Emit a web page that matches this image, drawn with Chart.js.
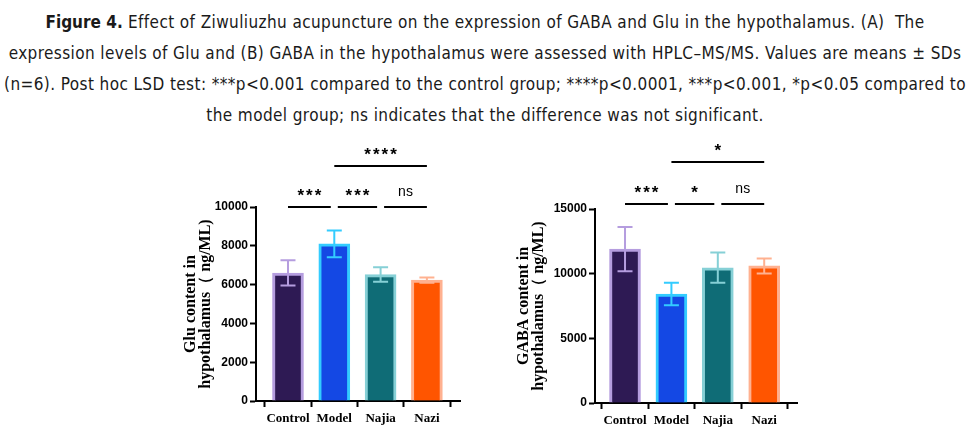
<!DOCTYPE html>
<html lang="en">
<head>
<meta charset="utf-8">
<title>Figure 4</title>
<script src="https://cdn.jsdelivr.net/npm/chart.js@4/dist/chart.umd.min.js"></script>
<style>
  body { margin: 0; width: 970px; height: 437px; background: #fff; position: relative; overflow: hidden; }
  #caption {
    position: absolute; left: 0; top: 7px; width: 970px;
    text-align: center; font-family: "DejaVu Sans Condensed", "Liberation Sans Narrow", "DejaVu Sans", sans-serif;
    font-size: 17px; letter-spacing: 0.4px; line-height: 31px; color: #1a1a1a; white-space: nowrap;
  }
  #caption b { letter-spacing: 0; }
  #gluWrap { position: absolute; left: 160px; top: 130px; }
  #gabaWrap { position: absolute; left: 490px; top: 130px; }
</style>
</head>
<body>
<div id="caption">
  <b>Figure 4.</b> Effect of Ziwuliuzhu acupuncture on the expression of GABA and Glu in the hypothalamus. (A)&nbsp; The<br>
  expression levels of Glu and (B) GABA in the hypothalamus were assessed with HPLC–MS/MS. Values are means ± SDs<br>
  (n=6). Post hoc LSD test: ***p&lt;0.001 compared to the control group; ****p&lt;0.0001, ***p&lt;0.001, *p&lt;0.05 compared to<br>
  the model group; ns indicates that the difference was not significant.
</div>
<div id="gluWrap"><canvas id="gluChart" width="320" height="307"></canvas></div>
<div id="gabaWrap"><canvas id="gabaChart" width="330" height="307"></canvas></div>

<script>
// data
var categories = ['Control', 'Model', 'Najia', 'Nazi'];

var gluMeans = [6600, 8100, 6520, 6230];
var gluSDs   = [650, 690, 370, 140];
var gluTicks = [0, 2000, 4000, 6000, 8000, 10000];
// [from, to, height, label]
var gluBrackets = [[0, 1, 10000, '***'], [1, 2, 10000, '***'], [2, 3, 10000, 'ns'], [1, 3, 12100, '****']];

var gabaMeans = [11900, 8420, 10460, 10600];
var gabaSDs   = [1710, 870, 1170, 580];
var gabaTicks = [0, 5000, 10000, 15000];
var gabaBrackets = [[0, 1, 15350, '***'], [1, 2, 15350, '*'], [2, 3, 15350, 'ns'], [1, 3, 18600, '*']];

var fillColors   = ['#2e1a54', '#1448e4', '#0f6c76', '#ff5500'];
var borderColors = ['#b59ddf', '#33ccff', '#86d0d6', '#ffb190'];

// error bars drawn on top of the bars
var errorBars = {
  id: 'errorBars',
  afterDatasetsDraw: function (chart) {
    var ctx = chart.ctx;
    var meta = chart.getDatasetMeta(0);
    var y = chart.scales.y;
    var sds = chart.options.plugins.errorBars.sds;
    var means = chart.data.datasets[0].data;
    ctx.save();
    ctx.lineWidth = 2;
    meta.data.forEach(function (bar, i) {
      var m = means[i].y;
      var top = y.getPixelForValue(m + sds[i]);
      var bot = y.getPixelForValue(m - sds[i]);
      ctx.strokeStyle = borderColors[i];
      ctx.beginPath();
      ctx.moveTo(bar.x, top); ctx.lineTo(bar.x, bot);
      ctx.moveTo(bar.x - 7.5, top); ctx.lineTo(bar.x + 7.5, top);
      ctx.moveTo(bar.x - 7.5, bot); ctx.lineTo(bar.x + 7.5, bot);
      ctx.stroke();
    });
    ctx.restore();
  }
};

// significance brackets above the bars
var sigBrackets = {
  id: 'sigBrackets',
  afterDraw: function (chart) {
    var ctx = chart.ctx;
    var x = chart.scales.x, y = chart.scales.y;
    var list = chart.options.plugins.sigBrackets.list;
    ctx.save();
    list.forEach(function (b) {
      var shared = function (idx) {
        return list.some(function (o) { return o !== b && o[2] === b[2] && (o[0] === idx || o[1] === idx); });
      };
      var x1 = x.getPixelForValue(b[0]) + (shared(b[0]) ? 3.5 : 0);
      var x2 = x.getPixelForValue(b[1]) - (shared(b[1]) ? 3.5 : 0);
      var yy = Math.round(y.getPixelForValue(b[2]));
      ctx.strokeStyle = '#000';
      ctx.lineWidth = 2;
      ctx.beginPath();
      ctx.moveTo(x1, yy); ctx.lineTo(x2, yy);
      ctx.stroke();
      ctx.fillStyle = '#000';
      ctx.textAlign = 'center';
      ctx.textBaseline = 'middle';
      if (b[3] === 'ns') {
        ctx.font = '14px "Liberation Sans", Arial, sans-serif';
        ctx.letterSpacing = '0px';
        ctx.fillText('ns', (x1 + x2) / 2, yy - 15);
      } else {
        ctx.font = 'bold 17px "Liberation Sans", Arial, sans-serif';
        ctx.letterSpacing = '2px';
        ctx.fillText(b[3], (x1 + x2) / 2 + 1, yy - 11);
      }
    });
    ctx.restore();
  }
};

function makeChart(id, means, sds, ticks, brackets, title, layout) {
  return new Chart(document.getElementById(id), {
    type: 'bar',
    data: {
      datasets: [{
        data: means.map(function (v, i) { return { x: i, y: v }; }),
        backgroundColor: fillColors,
        borderColor: borderColors,
        borderWidth: 3,
        borderSkipped: 'start',
        barThickness: 31
      }]
    },
    plugins: [errorBars, sigBrackets],
    options: {
      responsive: false,
      animation: false,
      devicePixelRatio: 1,
      layout: { padding: { top: layout.top, right: layout.right, left: 0, bottom: 0 } },
      plugins: {
        legend: { display: false },
        tooltip: { enabled: false },
        errorBars: { sds: sds },
        sigBrackets: { list: brackets }
      },
      scales: {
        x: {
          type: 'linear',
          offset: false,
          min: layout.xMin,
          max: layout.xMax,
          afterBuildTicks: function (axis) {
            axis.ticks = categories.map(function (c, i) { return { value: i }; });
          },
          afterFit: function (axis) { axis.height = layout.xH; },
          ticks: {
            autoSkip: false,
            maxRotation: 0,
            padding: 4,
            color: '#000',
            font: { family: '"Liberation Serif", "Times New Roman", serif', size: 13, weight: 'bold' },
            callback: function (v) { return categories[v]; }
          },
          grid: { drawOnChartArea: false, drawTicks: true, tickLength: 6, tickWidth: 2, tickColor: '#000' },
          border: { display: true, color: '#000', width: 2 }
        },
        y: {
          min: 0,
          max: ticks[ticks.length - 1],
          afterBuildTicks: function (axis) {
            axis.ticks = ticks.map(function (v) { return { value: v }; });
          },
          afterFit: function (axis) { axis.width = layout.yW; },
          ticks: {
            padding: 2,
            color: '#000',
            font: { family: '"Liberation Sans", Arial, sans-serif', size: 12, weight: 'bold' },
            callback: function (v) { return String(v); }
          },
          grid: { drawOnChartArea: false, drawTicks: true, tickLength: 6, tickWidth: 2, tickColor: '#000' },
          border: { display: true, color: '#000', width: 2 },
          title: {
            display: true,
            text: title,
            color: '#000',
            padding: { top: layout.titlePad, bottom: 0 },
            font: { family: '"Liberation Serif", "Times New Roman", serif', size: 16, weight: 'bold', lineHeight: 0.9 }
          }
        }
      }
    }
  });
}

makeChart('gluChart', gluMeans, gluSDs, gluTicks, gluBrackets,
  ['Glu content in', 'hypothalamus（ ng/ML)'],
  { top: 77, right: 20, xMin: -0.691, xMax: 3.715, xH: 36, yW: 96, titlePad: 24 });

makeChart('gabaChart', gabaMeans, gabaSDs, gabaTicks, gabaBrackets,
  ['GABA content in', 'hypothalamus（ ng/ML)'],
  { top: 79, right: 23, xMin: -0.647, xMax: 3.707, xH: 34, yW: 105, titlePad: 27 });
</script>
</body>
</html>
